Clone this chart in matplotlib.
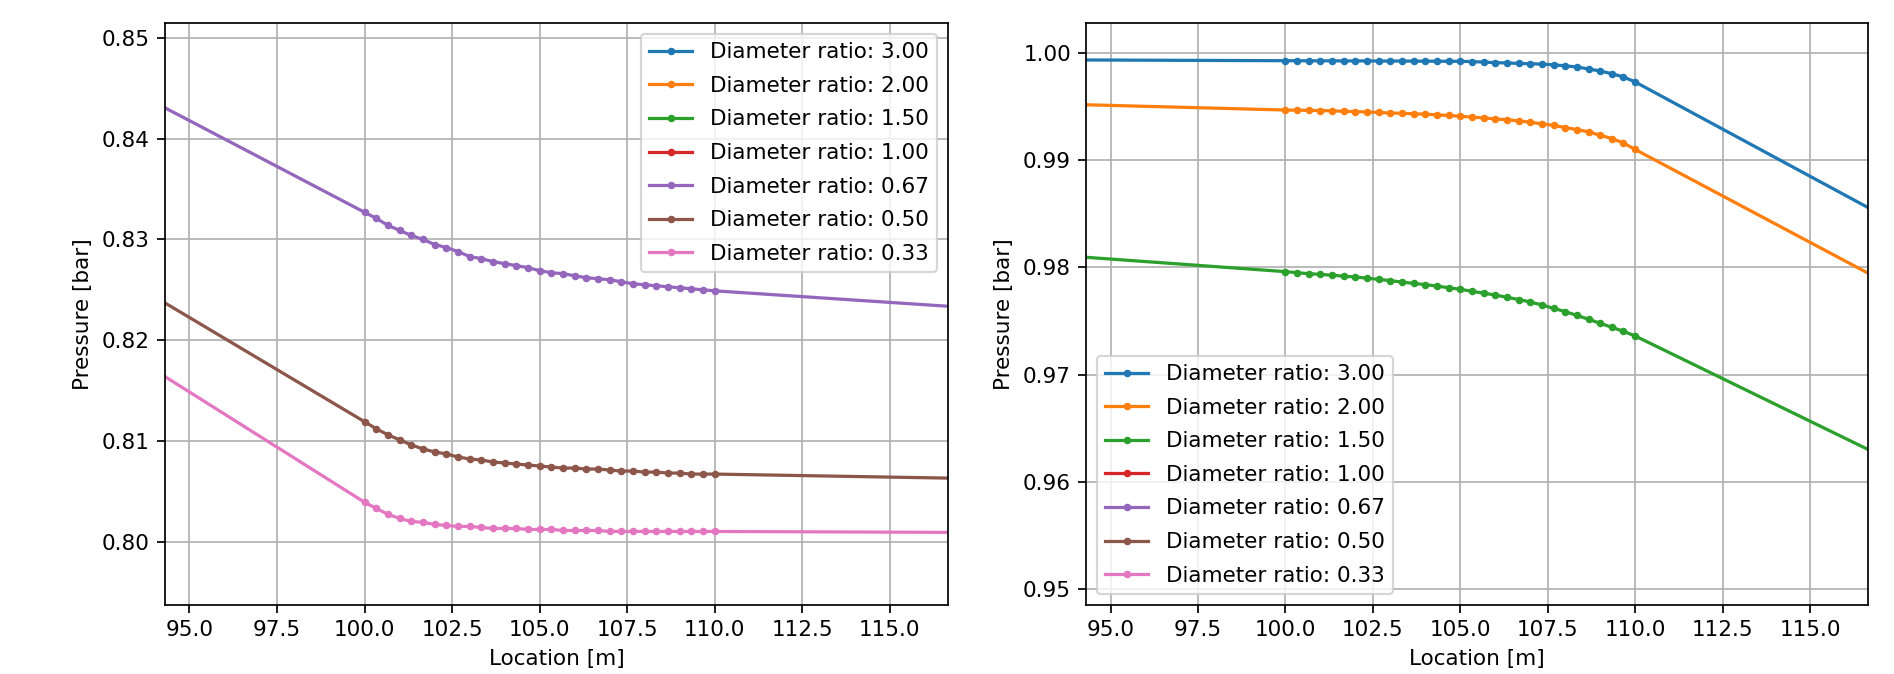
import matplotlib
matplotlib.use("Agg")
import matplotlib.pyplot as plt

# Location [m] (dense region 100-110 m plus one point on each side outside the view)
location = [90.0,
            100.0, 100.333, 100.667, 101.0, 101.333, 101.667, 102.0, 102.333, 102.667,
            103.0, 103.333, 103.667, 104.0, 104.333, 104.667, 105.0, 105.333, 105.667,
            106.0, 106.333, 106.667, 107.0, 107.333, 107.667, 108.0, 108.333, 108.667,
            109.0, 109.333, 109.667, 110.0,
            120.0]

labels = ["Diameter ratio: 3.00", "Diameter ratio: 2.00", "Diameter ratio: 1.50",
          "Diameter ratio: 1.00", "Diameter ratio: 0.67", "Diameter ratio: 0.50",
          "Diameter ratio: 0.33"]

p_300 = [0.99940,
         0.99928, 0.99928, 0.99927, 0.99927, 0.99927, 0.99926, 0.99926, 0.99926, 0.99925,
         0.99925, 0.99925, 0.99924, 0.99924, 0.99923, 0.99923, 0.99922, 0.99920, 0.99915,
         0.99910, 0.99907, 0.99903, 0.99900, 0.99896, 0.99890, 0.99880, 0.99870, 0.99851,
         0.99832, 0.99807, 0.99776, 0.99730,
         0.97970]
p_200 = [0.99554,
         0.99468, 0.99466, 0.99465, 0.99463, 0.99460, 0.99456, 0.99453, 0.99450, 0.99445,
         0.99440, 0.99437, 0.99433, 0.99429, 0.99423, 0.99417, 0.99410, 0.99402, 0.99394,
         0.99385, 0.99377, 0.99367, 0.99354, 0.99339, 0.99325, 0.99304, 0.99286, 0.99264,
         0.99233, 0.99202, 0.99161, 0.99100,
         0.97367]
p_150 = [0.98195,
         0.97960, 0.97950, 0.97941, 0.97935, 0.97926, 0.97918, 0.97910, 0.97899, 0.97888,
         0.97876, 0.97863, 0.97850, 0.97839, 0.97825, 0.97810, 0.97795, 0.97777, 0.97759,
         0.97742, 0.97721, 0.97700, 0.97677, 0.97649, 0.97618, 0.97587, 0.97552, 0.97516,
         0.97478, 0.97441, 0.97403, 0.97360,
         0.95770]
location_100 = [90.0, 120.0]
p_100 = [0.900, 0.900]
p_067 = [0.85090,
         0.8327, 0.8321, 0.8314, 0.8309, 0.8304, 0.8300, 0.8295, 0.8292, 0.8288,
         0.8283, 0.8281, 0.8278, 0.8276, 0.8274, 0.8272, 0.8269, 0.8267, 0.8266,
         0.8264, 0.8262, 0.8261, 0.8260, 0.8258, 0.8256, 0.8255, 0.8254, 0.8253,
         0.8252, 0.8251, 0.8250, 0.8249,
         0.8226]
p_050 = [0.8326,
         0.8119, 0.8112, 0.8106, 0.8101, 0.8096, 0.8092, 0.8089, 0.8087, 0.8084,
         0.8082, 0.8081, 0.8079, 0.8078, 0.8077, 0.8076, 0.8075, 0.8074, 0.8073,
         0.8073, 0.8072, 0.8072, 0.8071, 0.8070, 0.8070, 0.8069, 0.8069, 0.8068,
         0.8068, 0.8067, 0.8067, 0.8067,
         0.8061]
p_033 = [0.8258,
         0.8039, 0.8033, 0.8027, 0.8023, 0.8020, 0.8019, 0.8017, 0.8016, 0.8015,
         0.8015, 0.8014, 0.8013, 0.8013, 0.8013, 0.8012, 0.8012, 0.8012, 0.8011,
         0.8011, 0.8011, 0.8011, 0.8010, 0.8010, 0.8010, 0.8010, 0.8010, 0.8010,
         0.8010, 0.8010, 0.8010, 0.8010,
         0.80087]

series = [(location, p_300), (location, p_200), (location, p_150), (location_100, p_100),
          (location, p_067), (location, p_050), (location, p_033)]
colors = ["#1f77b4", "#ff7f0e", "#2ca02c", "#d62728", "#9467bd", "#8c564b", "#e377c2"]

xticks = [95.0, 97.5, 100.0, 102.5, 105.0, 107.5, 110.0, 112.5, 115.0]
xlim = (94.3, 116.66)
ylims = [(0.7937, 0.8515), (0.9485, 1.0028)]
yticks = [[0.80, 0.81, 0.82, 0.83, 0.84, 0.85], [0.95, 0.96, 0.97, 0.98, 0.99, 1.00]]
legend_loc = ["upper right", "lower left"]

dpi = 155
fig = plt.figure(figsize=(1894 / dpi, 674 / dpi), dpi=dpi)
axes = [fig.add_axes([0.0871, 0.1024, 0.5005 - 0.0871, 0.9659 - 0.1024]),
        fig.add_axes([0.5734, 0.1024, 0.9863 - 0.5734, 0.9659 - 0.1024])]

for k, ax in enumerate(axes):
    for (xs, ys), lab, c in zip(series, labels, colors):
        ax.plot(xs, ys, marker='.', markersize=5, color=c, label=lab)
    ax.set_xlim(*xlim)
    ax.set_ylim(*ylims[k])
    ax.set_yticks(yticks[k])
    ax.set_yticklabels([f"{v:.2f}" for v in yticks[k]])
    ax.set_xticks(xticks)
    ax.set_xticklabels([f"{v:.1f}" for v in xticks])
    ax.grid(True)
    ax.set_xlabel("Location [m]")
    ax.set_ylabel("Pressure [bar]")
    ax.legend(loc=legend_loc[k], labelspacing=0.63)

fig.savefig("out.png", dpi=dpi)
